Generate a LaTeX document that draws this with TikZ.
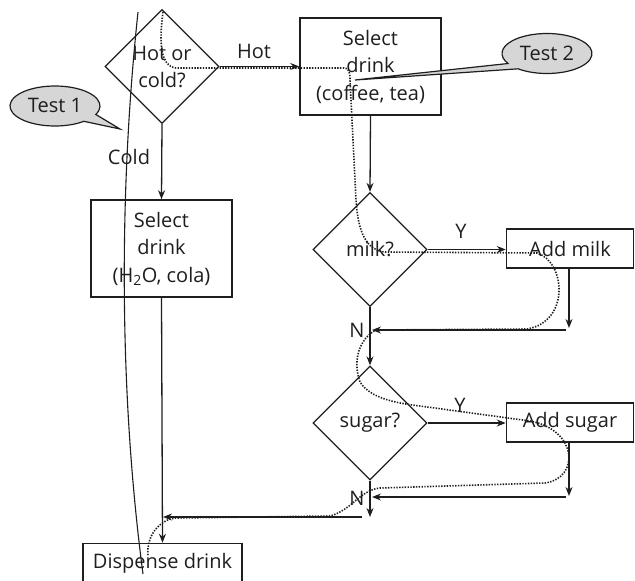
\documentclass[tikz,border=0pt]{standalone}
\usepackage{fontspec}
\setmainfont{Open Sans}
\usetikzlibrary{shapes.geometric,arrows.meta}
\definecolor{ink}{HTML}{1E1E1E}
\definecolor{callgray}{HTML}{D6D6D6}
\begin{document}
\begin{tikzpicture}[x=1pt,y=-1pt,
  every node/.style={font=\fontsize{20}{27.5}\selectfont, text=ink},
  proc/.style={draw=ink, rectangle, line width=1.5pt, inner sep=0pt, align=center},
  dec/.style={draw=ink, diamond, line width=1.3pt, inner sep=0pt, minimum width=114pt, minimum height=114pt},
  flow/.style={draw=ink, line width=1.3pt, -{Stealth[length=9pt,width=7pt]}},
  testpath/.style={draw=ink, line width=1.6pt, dash pattern=on 1.4pt off 1.4pt},
  callout/.style={draw=ink, fill=callgray, line width=1.2pt},
  lbl/.style={inner sep=1pt}
]
\useasboundingbox (0,0) rectangle (635,581);

% nodes
\node[dec] (d1) at (162,66.5) {};
\node[align=center, inner sep=0pt] (d1t) at (162,67) {Hot or\\cold?};
\node[proc, minimum width=141pt, minimum height=97pt] (s1) at (370.5,66.5) {Select\\drink\\(coffee, tea)};
\node[proc, minimum width=141pt, minimum height=97pt] (s2) at (161.5,248.5) {Select\\drink\\(H\textsubscript{2}O, cola)};
\node[dec] (d2) at (370,249.5) {};
\node[inner sep=0pt] (d2t) at (370,249) {milk?};
\node[proc, minimum width=127pt, minimum height=39pt] (m) at (570,248.5) {Add milk};
\node[dec] (d3) at (370,423) {};
\node[inner sep=0pt] (d3t) at (370,423) {sugar?};
\node[proc, minimum width=127pt, minimum height=39pt] (sg) at (570,422.5) {Add sugar};
\node[proc, minimum width=159pt, minimum height=40pt] (dd) at (162.5,563.5) {Dispense drink};

% labels
\node[lbl] (lhot) at (254,51) {Hot};
\node[lbl] (lcold) at (129,157) {Cold};
\node[lbl] (ly1) at (461,231) {Y};
\node[lbl] (ly2) at (460,405) {Y};
\node[lbl] (ln1) at (357,330) {N};
\node[lbl] (ln2) at (357,498) {N};

% junction coordinates
\coordinate (mEnd) at (569,328);
\coordinate (mRet) at (566,330);
\coordinate (j1) at (372,330);
\coordinate (sEnd) at (569,496);
\coordinate (sRet) at (566,497);
\coordinate (j2) at (372,497);
\coordinate (j3) at (370,517);
\coordinate (j4) at (362,517);
\coordinate (j5) at (163,517);

% connectors
\draw[flow] (d1.east) -- (s1.west);
\draw[flow] (d1.south) -- (s2.north);
\draw[flow] (s1.south) -- (d2.north);
\draw[flow] (d2.east) -- (m.west |- d2.east);
\draw[flow] (m.south -| mEnd) -- (mEnd);
\draw[flow] (mRet) -- (j1);
\draw[flow] (d2.south) -- (d3.north);
\draw[flow] (d3.east) -- (sg.west |- d3.east);
\draw[flow] (sg.south -| sEnd) -- (sEnd);
\draw[flow] (sRet) -- (j2);
\draw[flow] (d3.south) -- (j3);
\draw[flow] (j4) -- (j5);
\draw[flow] (s2.south) -- (dd.north);

% callouts
\node[inner sep=0pt] (c1) at (55,106) {};
\coordinate (c1tip) at (120,129);
\draw[callout] (c1) ++(-25:45pt and 20pt) arc[start angle=-25, end angle=310, x radius=45pt, y radius=20pt] -- (c1tip) -- cycle;
\node[inner sep=0pt] (c1t) at (55,105) {Test 1};

\node[inner sep=0pt] (c2) at (547,53.5) {};
\coordinate (c2tip) at (355,80);
\draw[callout] (c2) ++(230:45pt and 20pt) arc[start angle=230, end angle=570, x radius=45pt, y radius=20pt] -- (c2tip) -- cycle;
\node[inner sep=0pt] (c2t) at (547,53) {Test 2};

% test path 1 (solid)
\coordinate (t1a) at (138,12);
\coordinate (t1b) at (143,574);
\draw[draw=ink, line width=1.1pt] (t1a) .. controls (118,200) and (120,400) .. (t1b);

% test path 2 (dotted)
\coordinate (t2a) at (163,12);
\coordinate (t2b) at (148,556);
\draw[testpath] (t2a) .. controls (159,42) and (160,66) .. (176,68)
  -- (344,68) .. controls (349,68) and (350,72) .. (350,80)
  -- (356,200) .. controls (358,232) and (366,250) .. (385,252)
  -- (537,253) .. controls (566,262) and (570,322) .. (527,329)
  -- (376,330) .. controls (360,338) and (352,360) .. (360,382)
  .. controls (370,398) and (395,403) .. (420,406)
  -- (530,421) .. controls (578,430) and (580,478) .. (545,483)
  -- (380,488) .. controls (360,490) and (352,510) .. (330,516)
  -- (175,518) .. controls (160,520) and (146,535) .. (t2b);
\end{tikzpicture}
\end{document}
